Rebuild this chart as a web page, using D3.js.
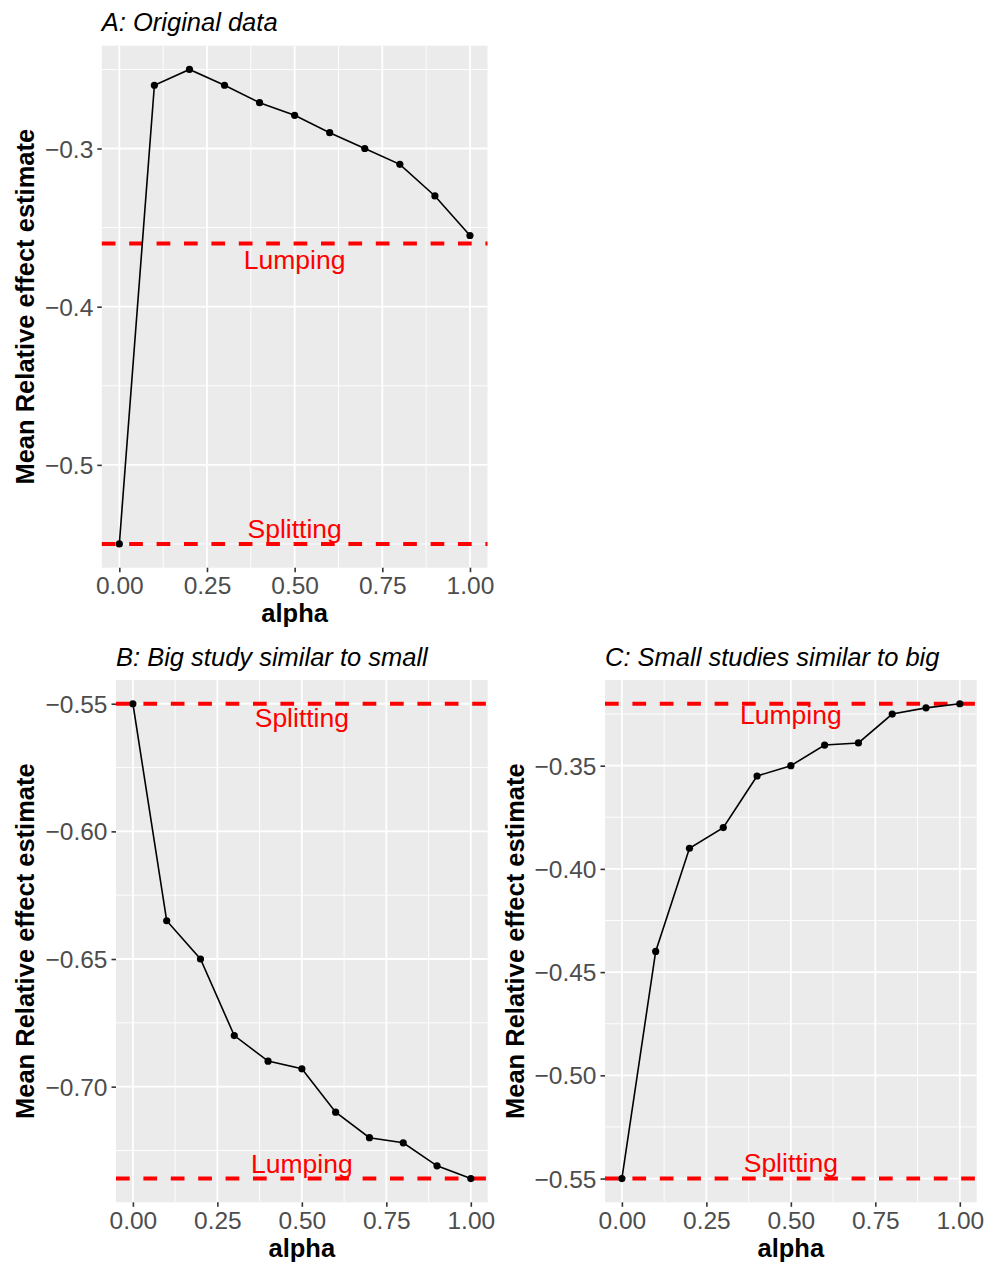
<!DOCTYPE html>
<html>
<head>
<meta charset="utf-8">
<script src="https://cdn.jsdelivr.net/npm/d3@7"></script>
<style>
  html, body { margin: 0; padding: 0; background: #fff; }
  svg { display: block; font-family: "Liberation Sans", Arial, sans-serif; }
</style>
</head>
<body>
<svg id="chart" width="987" height="1264"></svg>
<script>
// ---- data ----
const alpha = [0, 0.1, 0.2, 0.3, 0.4, 0.5, 0.6, 0.7, 0.8, 0.9, 1.0];

const valuesA = [-0.55, -0.26, -0.25, -0.26, -0.271, -0.279, -0.29, -0.30, -0.31, -0.33, -0.355];
const valuesB = [-0.55, -0.635, -0.65, -0.68, -0.69, -0.693, -0.71, -0.72, -0.722, -0.731, -0.736];
const valuesC = [-0.55, -0.44, -0.39, -0.38, -0.355, -0.35, -0.34, -0.339, -0.325, -0.322, -0.32];

const lumpingA = -0.36,  splittingA = -0.55;
const lumpingB = -0.736, splittingB = -0.55;
const lumpingC = -0.32,  splittingC = -0.55;

const titles = ["A: Original data", "B: Big study similar to small", "C: Small studies similar to big"];
const xTicks = [0, 0.25, 0.5, 0.75, 1.0];
const yTicksA = [-0.5, -0.4, -0.3];
const yTicksB = [-0.70, -0.65, -0.60, -0.55];
const yTicksC = [-0.55, -0.50, -0.45, -0.40, -0.35];
const xLabel = "alpha";
const yLabel = "Mean Relative effect estimate";

// ---- layout ----
const panels = [
  { title: titles[0], values: valuesA, lump: lumpingA, split: splittingA, yTicks: yTicksA, dec: 1,
    box: { l: 101.8, r: 487.5, t: 45.7, b: 567.7 }, ylabX: 34, offBelow: 25.6, offAbove: -5.7 },
  { title: titles[1], values: valuesB, lump: lumpingB, split: splittingB, yTicks: yTicksB, dec: 2,
    box: { l: 116, r: 487.7, t: 680, b: 1202.3 }, ylabX: 34, offBelow: 23.3, offAbove: -6 },
  { title: titles[2], values: valuesC, lump: lumpingC, split: splittingC, yTicks: yTicksC, dec: 2,
    box: { l: 605, r: 976.7, t: 680, b: 1202.3 }, ylabX: 524, offBelow: 20, offAbove: -7 }
];

const svg = d3.select("#chart");
const minus = s => s.replace("-", "\u2212");

panels.forEach(p => {
  const B = p.box;
  const g = svg.append("g");
  const x = d3.scaleLinear().domain([-0.05, 1.05]).range([B.l, B.r]);
  const all = p.values.concat([p.lump, p.split]);
  const lo = d3.min(all), hi = d3.max(all), pad = (hi - lo) * 0.05;
  const y = d3.scaleLinear().domain([lo - pad, hi + pad]).range([B.b, B.t]);

  // panel background
  g.append("rect").attr("x", B.l).attr("y", B.t).attr("width", B.r - B.l).attr("height", B.b - B.t)
    .attr("fill", "#EBEBEB");

  // minor gridlines
  const xMinor = xTicks.slice(0, -1).map((t, i) => (t + xTicks[i + 1]) / 2);
  const step = p.yTicks[1] - p.yTicks[0];
  const yMinor = [];
  for (let v = p.yTicks[0] - step * 2.5; v <= p.yTicks[p.yTicks.length - 1] + step * 2; v += step) {
    if (v >= y.domain()[0] && v <= y.domain()[1]) yMinor.push(v);
  }
  g.selectAll(".xminor").data(xMinor).enter().append("line")
    .attr("x1", d => x(d)).attr("x2", d => x(d)).attr("y1", B.t).attr("y2", B.b)
    .attr("stroke", "#fff").attr("stroke-width", 0.9);
  g.selectAll(".yminor").data(yMinor).enter().append("line")
    .attr("x1", B.l).attr("x2", B.r).attr("y1", d => y(d)).attr("y2", d => y(d))
    .attr("stroke", "#fff").attr("stroke-width", 0.9);

  // major gridlines
  g.selectAll(".xmajor").data(xTicks).enter().append("line")
    .attr("x1", d => x(d)).attr("x2", d => x(d)).attr("y1", B.t).attr("y2", B.b)
    .attr("stroke", "#fff").attr("stroke-width", 1.8);
  g.selectAll(".ymajor").data(p.yTicks).enter().append("line")
    .attr("x1", B.l).attr("x2", B.r).attr("y1", d => y(d)).attr("y2", d => y(d))
    .attr("stroke", "#fff").attr("stroke-width", 1.8);

  // reference lines
  [p.lump, p.split].forEach(v => {
    g.append("line").attr("x1", B.l).attr("x2", B.r).attr("y1", y(v)).attr("y2", y(v))
      .attr("stroke", "#FF0000").attr("stroke-width", 4).attr("stroke-dasharray", "13.7,13.7");
  });

  // data line + points
  const pts = alpha.map((a, i) => [a, p.values[i]]);
  g.append("path").datum(pts)
    .attr("d", d3.line().x(d => x(d[0])).y(d => y(d[1])))
    .attr("fill", "none").attr("stroke", "#000").attr("stroke-width", 1.6);
  g.selectAll(".pt").data(pts).enter().append("circle")
    .attr("cx", d => x(d[0])).attr("cy", d => y(d[1])).attr("r", 3.6).attr("fill", "#000");

  // labels for reference lines
  const labels = [{ v: p.lump, o: p.split, t: "Lumping" }, { v: p.split, o: p.lump, t: "Splitting" }];
  labels.forEach(L => {
    const below = L.o < L.v;
    g.append("text").attr("x", x(0.5)).attr("y", y(L.v) + (below ? p.offBelow : p.offAbove))
      .attr("text-anchor", "middle").attr("fill", "#FF0000").attr("font-size", 26.5).text(L.t);
  });

  // axes
  const xAxis = d3.axisBottom(x).tickValues(xTicks).tickFormat(d3.format(".2f")).tickSize(4.5).tickPadding(4);
  const ax = g.append("g").attr("transform", `translate(0,${B.b})`).call(xAxis);
  const yAxis = d3.axisLeft(y).tickValues(p.yTicks).tickFormat(d => minus(d3.format("." + p.dec + "f")(d))).tickSize(4.5).tickPadding(4);
  const ay = g.append("g").attr("transform", `translate(${B.l},0)`).call(yAxis);
  [ax, ay].forEach(a => {
    a.select(".domain").remove();
    a.selectAll(".tick line").attr("stroke", "#333").attr("stroke-width", 1.6);
    a.selectAll(".tick text").attr("fill", "#4D4D4D").attr("font-size", 24.5)
      .attr("font-family", "'Liberation Sans', Arial, sans-serif");
  });
  ax.selectAll(".tick text").attr("dy", null).attr("y", 26.8);
  ay.selectAll(".tick text").attr("dy", "0.35em").attr("x", -8.5);

  // axis titles
  g.append("text").attr("x", (B.l + B.r) / 2).attr("y", B.b + 54.5)
    .attr("text-anchor", "middle").attr("font-weight", "bold").attr("font-size", 25.5).text(xLabel);
  g.append("text").attr("transform", `translate(${p.ylabX},${(B.t + B.b) / 2}) rotate(-90)`)
    .attr("text-anchor", "middle").attr("font-weight", "bold").attr("font-size", 25.5).text(yLabel);

  // title
  g.append("text").attr("x", B.l).attr("y", B.t - 14.5)
    .attr("font-style", "italic").attr("font-size", 25.5).text(p.title);
});
</script>
</body>
</html>
